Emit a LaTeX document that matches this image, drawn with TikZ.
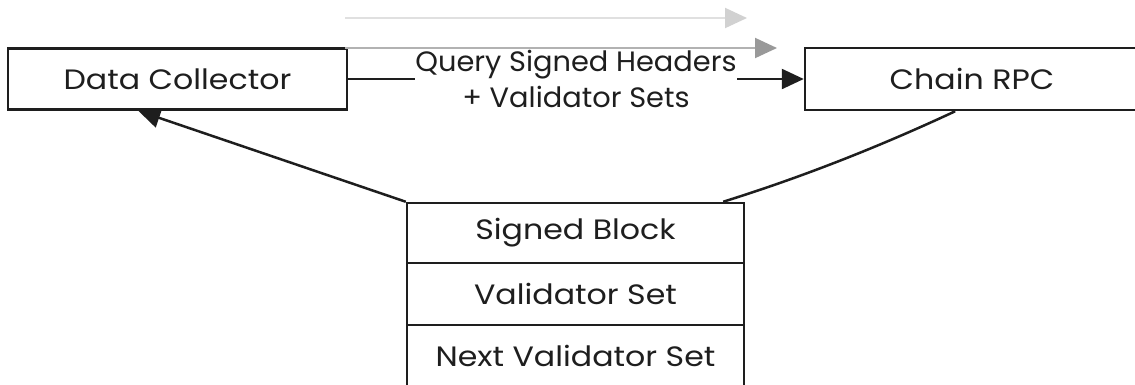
\documentclass[tikz,border=0pt]{standalone}
\usepackage{fontspec}
\setmainfont{Poppins}
\usetikzlibrary{arrows.meta,calc}
\definecolor{ink}{HTML}{1E1E1E}
\newcommand\hw[1]{\scalebox{1.13}[1]{#1}}
\newcommand\hwl[1]{\scalebox{1.03}[1]{#1}}
\begin{document}
\begin{tikzpicture}[x=1pt,y=-1pt,
  box/.style={draw=ink,line width=2.5pt,fill=white,rectangle,inner sep=0pt,
    font=\fontsize{28}{32}\selectfont,text=ink},
  conn/.style={draw=ink,line width=2.5pt},
  tip/.style={-{Triangle[length=22pt,width=20pt]}},
  ghost/.style={line width=2pt},
  lbl/.style={fill=white,align=center,inner xsep=0pt,inner ysep=1pt,font=\fontsize{28}{36}\selectfont,text=ink}]
\useasboundingbox (0,0) rectangle (1135,384);
\clip (0,0) rectangle (1135,384);
% nodes
\node[box,minimum width=339pt,minimum height=61pt] (dc) at (177.5,79) {\hw{Data Collector}};
\node[box,minimum width=334pt,minimum height=62pt] (rpc) at (972,79) {\hw{Chain RPC}};
\node[box,minimum width=337pt,minimum height=60pt] (sb) at (575.5,233) {\hw{Signed Block}};
\node[box,minimum width=337pt,minimum height=62pt] (vs) at (575.5,294) {\hw{Validator Set}};
\node[box,minimum width=337pt,minimum height=61pt] (nvs) at (575.5,355.5) {\hw{Next Validator Set}};
% connectors
\draw[conn,tip] (dc.east) -- node[lbl] {\hwl{Query Signed Headers}\\\hwl{+ Validator Sets}} (rpc.west);
\draw[conn,tip] (sb.north west) -- ($(dc.south west)!0.385!(dc.south east)$);
\draw[conn] ($(rpc.south west)!0.45!(rpc.south east)$) .. controls +(-75,35) and +(80,-25) .. ($(sb.north west)!0.935!(sb.north east)$);
% ghost arrows
\coordinate (g1s) at (345,18);
\coordinate (g1e) at (747,18);
\coordinate (g2s) at (345,48);
\coordinate (g2e) at (777,48);
\draw[ghost,draw=black!12,-{Triangle[length=22pt,width=20pt,color=black!18]}] (g1s) -- (g1e);
\draw[ghost,draw=black!30,-{Triangle[length=22pt,width=20pt,color=black!40]}] (g2s) -- (g2e);
\end{tikzpicture}
\end{document}
